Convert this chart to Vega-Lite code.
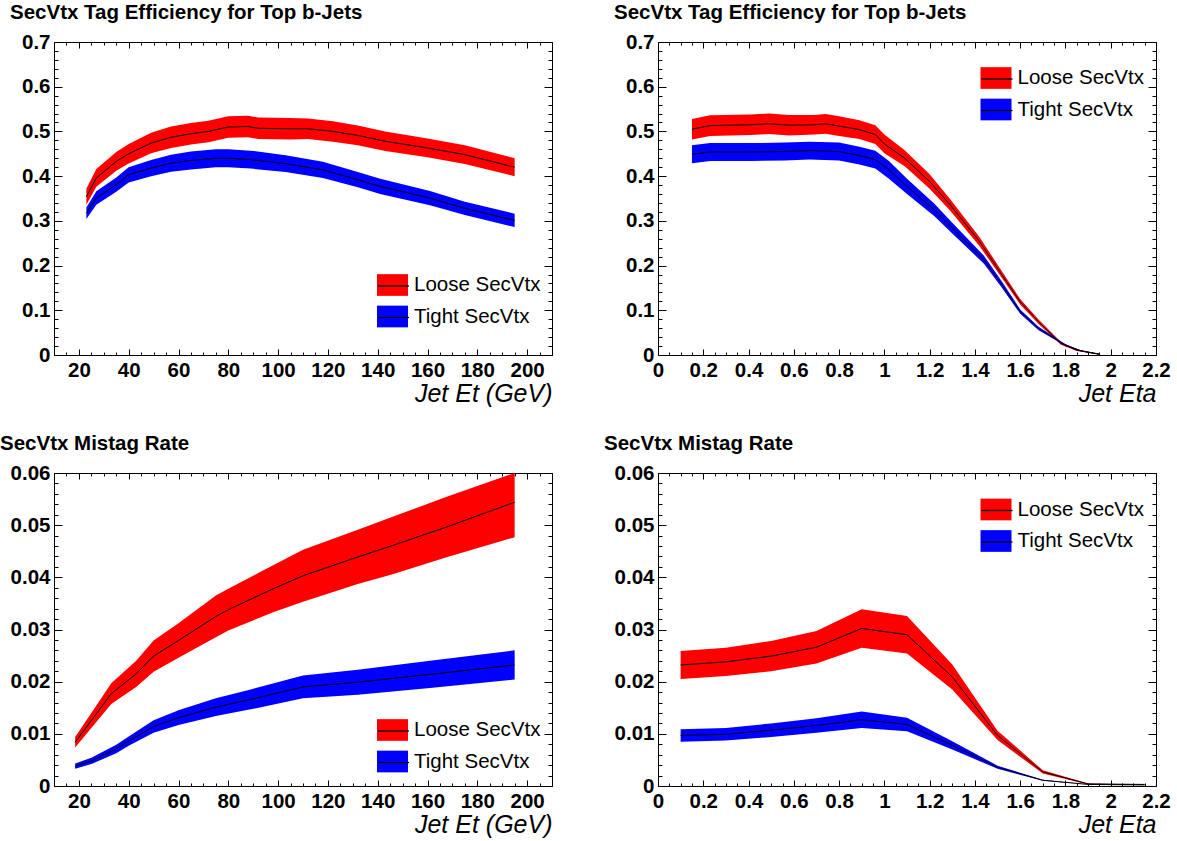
{
  "$schema": "https://vega.github.io/schema/vega-lite/v6.json",
  "background": "white",
  "padding": {"left": 0, "top": 2, "right": 5, "bottom": 5},
  "datasets": {
    "eff_et": [
      {"series": "Loose SecVtx", "x": 23, "y": 0.354, "lo": 0.336, "hi": 0.372},
      {"series": "Loose SecVtx", "x": 27, "y": 0.396, "lo": 0.376, "hi": 0.416},
      {"series": "Loose SecVtx", "x": 35, "y": 0.433, "lo": 0.412, "hi": 0.454},
      {"series": "Loose SecVtx", "x": 40, "y": 0.450, "lo": 0.428, "hi": 0.472},
      {"series": "Loose SecVtx", "x": 49, "y": 0.474, "lo": 0.451, "hi": 0.497},
      {"series": "Loose SecVtx", "x": 57, "y": 0.487, "lo": 0.463, "hi": 0.511},
      {"series": "Loose SecVtx", "x": 65, "y": 0.495, "lo": 0.471, "hi": 0.519},
      {"series": "Loose SecVtx", "x": 72, "y": 0.500, "lo": 0.476, "hi": 0.524},
      {"series": "Loose SecVtx", "x": 80, "y": 0.510, "lo": 0.486, "hi": 0.534},
      {"series": "Loose SecVtx", "x": 88, "y": 0.511, "lo": 0.487, "hi": 0.535},
      {"series": "Loose SecVtx", "x": 92, "y": 0.507, "lo": 0.483, "hi": 0.531},
      {"series": "Loose SecVtx", "x": 105, "y": 0.506, "lo": 0.482, "hi": 0.530},
      {"series": "Loose SecVtx", "x": 112, "y": 0.506, "lo": 0.483, "hi": 0.529},
      {"series": "Loose SecVtx", "x": 122, "y": 0.500, "lo": 0.477, "hi": 0.523},
      {"series": "Loose SecVtx", "x": 132, "y": 0.491, "lo": 0.469, "hi": 0.513},
      {"series": "Loose SecVtx", "x": 143, "y": 0.478, "lo": 0.456, "hi": 0.500},
      {"series": "Loose SecVtx", "x": 160, "y": 0.463, "lo": 0.442, "hi": 0.484},
      {"series": "Loose SecVtx", "x": 175, "y": 0.448, "lo": 0.427, "hi": 0.469},
      {"series": "Loose SecVtx", "x": 195, "y": 0.420, "lo": 0.400, "hi": 0.440},
      {"series": "Tight SecVtx", "x": 23, "y": 0.317, "lo": 0.304, "hi": 0.330},
      {"series": "Tight SecVtx", "x": 27, "y": 0.351, "lo": 0.336, "hi": 0.366},
      {"series": "Tight SecVtx", "x": 35, "y": 0.381, "lo": 0.365, "hi": 0.397},
      {"series": "Tight SecVtx", "x": 40, "y": 0.403, "lo": 0.386, "hi": 0.420},
      {"series": "Tight SecVtx", "x": 49, "y": 0.418, "lo": 0.400, "hi": 0.436},
      {"series": "Tight SecVtx", "x": 57, "y": 0.429, "lo": 0.410, "hi": 0.448},
      {"series": "Tight SecVtx", "x": 65, "y": 0.435, "lo": 0.415, "hi": 0.455},
      {"series": "Tight SecVtx", "x": 75, "y": 0.440, "lo": 0.420, "hi": 0.460},
      {"series": "Tight SecVtx", "x": 80, "y": 0.440, "lo": 0.420, "hi": 0.460},
      {"series": "Tight SecVtx", "x": 89, "y": 0.437, "lo": 0.417, "hi": 0.457},
      {"series": "Tight SecVtx", "x": 103, "y": 0.428, "lo": 0.409, "hi": 0.447},
      {"series": "Tight SecVtx", "x": 118, "y": 0.414, "lo": 0.396, "hi": 0.432},
      {"series": "Tight SecVtx", "x": 132, "y": 0.392, "lo": 0.375, "hi": 0.409},
      {"series": "Tight SecVtx", "x": 141, "y": 0.377, "lo": 0.360, "hi": 0.394},
      {"series": "Tight SecVtx", "x": 161, "y": 0.351, "lo": 0.335, "hi": 0.367},
      {"series": "Tight SecVtx", "x": 175, "y": 0.328, "lo": 0.313, "hi": 0.343},
      {"series": "Tight SecVtx", "x": 195, "y": 0.301, "lo": 0.286, "hi": 0.316}
    ],
    "eff_eta": [
      {"series": "Loose SecVtx", "x": 0.15, "y": 0.505, "lo": 0.482, "hi": 0.528},
      {"series": "Loose SecVtx", "x": 0.23, "y": 0.513, "lo": 0.490, "hi": 0.536},
      {"series": "Loose SecVtx", "x": 0.41, "y": 0.515, "lo": 0.492, "hi": 0.538},
      {"series": "Loose SecVtx", "x": 0.49, "y": 0.517, "lo": 0.494, "hi": 0.540},
      {"series": "Loose SecVtx", "x": 0.58, "y": 0.514, "lo": 0.491, "hi": 0.537},
      {"series": "Loose SecVtx", "x": 0.69, "y": 0.515, "lo": 0.493, "hi": 0.537},
      {"series": "Loose SecVtx", "x": 0.74, "y": 0.517, "lo": 0.495, "hi": 0.539},
      {"series": "Loose SecVtx", "x": 0.80, "y": 0.512, "lo": 0.490, "hi": 0.534},
      {"series": "Loose SecVtx", "x": 0.89, "y": 0.504, "lo": 0.483, "hi": 0.525},
      {"series": "Loose SecVtx", "x": 0.96, "y": 0.493, "lo": 0.472, "hi": 0.514},
      {"series": "Loose SecVtx", "x": 1.00, "y": 0.472, "lo": 0.451, "hi": 0.493},
      {"series": "Loose SecVtx", "x": 1.09, "y": 0.440, "lo": 0.422, "hi": 0.458},
      {"series": "Loose SecVtx", "x": 1.20, "y": 0.388, "lo": 0.372, "hi": 0.404},
      {"series": "Loose SecVtx", "x": 1.29, "y": 0.336, "lo": 0.323, "hi": 0.349},
      {"series": "Loose SecVtx", "x": 1.42, "y": 0.254, "lo": 0.244, "hi": 0.264},
      {"series": "Loose SecVtx", "x": 1.50, "y": 0.194, "lo": 0.186, "hi": 0.202},
      {"series": "Loose SecVtx", "x": 1.60, "y": 0.119, "lo": 0.113, "hi": 0.125},
      {"series": "Loose SecVtx", "x": 1.68, "y": 0.075, "lo": 0.070, "hi": 0.080},
      {"series": "Loose SecVtx", "x": 1.78, "y": 0.026, "lo": 0.023, "hi": 0.029},
      {"series": "Loose SecVtx", "x": 1.85, "y": 0.011, "lo": 0.009, "hi": 0.013},
      {"series": "Loose SecVtx", "x": 1.95, "y": 0.002, "lo": 0.001, "hi": 0.003},
      {"series": "Tight SecVtx", "x": 0.15, "y": 0.449, "lo": 0.429, "hi": 0.469},
      {"series": "Tight SecVtx", "x": 0.23, "y": 0.454, "lo": 0.434, "hi": 0.474},
      {"series": "Tight SecVtx", "x": 0.41, "y": 0.454, "lo": 0.434, "hi": 0.474},
      {"series": "Tight SecVtx", "x": 0.56, "y": 0.455, "lo": 0.435, "hi": 0.475},
      {"series": "Tight SecVtx", "x": 0.67, "y": 0.457, "lo": 0.437, "hi": 0.477},
      {"series": "Tight SecVtx", "x": 0.80, "y": 0.455, "lo": 0.435, "hi": 0.475},
      {"series": "Tight SecVtx", "x": 0.89, "y": 0.446, "lo": 0.426, "hi": 0.466},
      {"series": "Tight SecVtx", "x": 0.96, "y": 0.437, "lo": 0.417, "hi": 0.457},
      {"series": "Tight SecVtx", "x": 1.02, "y": 0.414, "lo": 0.394, "hi": 0.434},
      {"series": "Tight SecVtx", "x": 1.10, "y": 0.377, "lo": 0.360, "hi": 0.394},
      {"series": "Tight SecVtx", "x": 1.22, "y": 0.325, "lo": 0.311, "hi": 0.339},
      {"series": "Tight SecVtx", "x": 1.30, "y": 0.284, "lo": 0.272, "hi": 0.296},
      {"series": "Tight SecVtx", "x": 1.44, "y": 0.213, "lo": 0.204, "hi": 0.222},
      {"series": "Tight SecVtx", "x": 1.52, "y": 0.157, "lo": 0.150, "hi": 0.164},
      {"series": "Tight SecVtx", "x": 1.60, "y": 0.097, "lo": 0.092, "hi": 0.102},
      {"series": "Tight SecVtx", "x": 1.68, "y": 0.060, "lo": 0.056, "hi": 0.064},
      {"series": "Tight SecVtx", "x": 1.80, "y": 0.022, "lo": 0.020, "hi": 0.024},
      {"series": "Tight SecVtx", "x": 1.87, "y": 0.009, "lo": 0.008, "hi": 0.010},
      {"series": "Tight SecVtx", "x": 1.95, "y": 0.0015, "lo": 0.001, "hi": 0.002}
    ],
    "mis_et": [
      {"series": "Loose SecVtx", "x": 18.5, "y": 0.0084, "lo": 0.0074, "hi": 0.0094},
      {"series": "Loose SecVtx", "x": 26, "y": 0.0132, "lo": 0.0117, "hi": 0.0147},
      {"series": "Loose SecVtx", "x": 33, "y": 0.0177, "lo": 0.0157, "hi": 0.0197},
      {"series": "Loose SecVtx", "x": 43, "y": 0.0215, "lo": 0.0190, "hi": 0.0240},
      {"series": "Loose SecVtx", "x": 50, "y": 0.0249, "lo": 0.0219, "hi": 0.0279},
      {"series": "Loose SecVtx", "x": 60, "y": 0.0279, "lo": 0.0246, "hi": 0.0312},
      {"series": "Loose SecVtx", "x": 75, "y": 0.0325, "lo": 0.0285, "hi": 0.0365},
      {"series": "Loose SecVtx", "x": 80, "y": 0.0338, "lo": 0.0298, "hi": 0.0378},
      {"series": "Loose SecVtx", "x": 98, "y": 0.0378, "lo": 0.0333, "hi": 0.0423},
      {"series": "Loose SecVtx", "x": 110, "y": 0.0403, "lo": 0.0353, "hi": 0.0453},
      {"series": "Loose SecVtx", "x": 132, "y": 0.0439, "lo": 0.0387, "hi": 0.0491},
      {"series": "Loose SecVtx", "x": 146, "y": 0.0461, "lo": 0.0406, "hi": 0.0516},
      {"series": "Loose SecVtx", "x": 168, "y": 0.0497, "lo": 0.0439, "hi": 0.0555},
      {"series": "Loose SecVtx", "x": 195, "y": 0.0544, "lo": 0.0477, "hi": 0.0600},
      {"series": "Tight SecVtx", "x": 18.5, "y": 0.0038, "lo": 0.0033, "hi": 0.0043},
      {"series": "Tight SecVtx", "x": 25, "y": 0.0048, "lo": 0.0042, "hi": 0.0054},
      {"series": "Tight SecVtx", "x": 35, "y": 0.0071, "lo": 0.0063, "hi": 0.0079},
      {"series": "Tight SecVtx", "x": 40, "y": 0.0086, "lo": 0.0077, "hi": 0.0095},
      {"series": "Tight SecVtx", "x": 50, "y": 0.0114, "lo": 0.0102, "hi": 0.0126},
      {"series": "Tight SecVtx", "x": 60, "y": 0.0131, "lo": 0.0117, "hi": 0.0145},
      {"series": "Tight SecVtx", "x": 75, "y": 0.0151, "lo": 0.0134, "hi": 0.0168},
      {"series": "Tight SecVtx", "x": 89, "y": 0.0166, "lo": 0.0147, "hi": 0.0185},
      {"series": "Tight SecVtx", "x": 110, "y": 0.0190, "lo": 0.0168, "hi": 0.0212},
      {"series": "Tight SecVtx", "x": 132, "y": 0.0199, "lo": 0.0175, "hi": 0.0223},
      {"series": "Tight SecVtx", "x": 161, "y": 0.0214, "lo": 0.0188, "hi": 0.0240},
      {"series": "Tight SecVtx", "x": 195, "y": 0.0232, "lo": 0.0204, "hi": 0.0260}
    ],
    "mis_eta": [
      {"series": "Loose SecVtx", "x": 0.1, "y": 0.0232, "lo": 0.0205, "hi": 0.0259},
      {"series": "Loose SecVtx", "x": 0.3, "y": 0.0238, "lo": 0.0211, "hi": 0.0265},
      {"series": "Loose SecVtx", "x": 0.5, "y": 0.0249, "lo": 0.0220, "hi": 0.0278},
      {"series": "Loose SecVtx", "x": 0.7, "y": 0.0266, "lo": 0.0235, "hi": 0.0297},
      {"series": "Loose SecVtx", "x": 0.9, "y": 0.0302, "lo": 0.0265, "hi": 0.0339},
      {"series": "Loose SecVtx", "x": 1.1, "y": 0.0290, "lo": 0.0254, "hi": 0.0326},
      {"series": "Loose SecVtx", "x": 1.3, "y": 0.0209, "lo": 0.0185, "hi": 0.0233},
      {"series": "Loose SecVtx", "x": 1.5, "y": 0.0097, "lo": 0.0088, "hi": 0.0106},
      {"series": "Loose SecVtx", "x": 1.7, "y": 0.0027, "lo": 0.0024, "hi": 0.0030},
      {"series": "Loose SecVtx", "x": 1.9, "y": 0.0004, "lo": 0.0003, "hi": 0.0005},
      {"series": "Loose SecVtx", "x": 2.15, "y": 0.0003, "lo": 0.0003, "hi": 0.0003},
      {"series": "Tight SecVtx", "x": 0.1, "y": 0.0097, "lo": 0.0085, "hi": 0.0109},
      {"series": "Tight SecVtx", "x": 0.3, "y": 0.0099, "lo": 0.0087, "hi": 0.0111},
      {"series": "Tight SecVtx", "x": 0.5, "y": 0.0107, "lo": 0.0094, "hi": 0.0120},
      {"series": "Tight SecVtx", "x": 0.7, "y": 0.0116, "lo": 0.0102, "hi": 0.0130},
      {"series": "Tight SecVtx", "x": 0.9, "y": 0.0127, "lo": 0.0111, "hi": 0.0143},
      {"series": "Tight SecVtx", "x": 1.1, "y": 0.0118, "lo": 0.0105, "hi": 0.0131},
      {"series": "Tight SecVtx", "x": 1.3, "y": 0.0078, "lo": 0.0070, "hi": 0.0086},
      {"series": "Tight SecVtx", "x": 1.5, "y": 0.0036, "lo": 0.0033, "hi": 0.0039},
      {"series": "Tight SecVtx", "x": 1.7, "y": 0.0011, "lo": 0.0010, "hi": 0.0012},
      {"series": "Tight SecVtx", "x": 1.9, "y": 0.0003, "lo": 0.0003, "hi": 0.0003},
      {"series": "Tight SecVtx", "x": 2.15, "y": 0.0002, "lo": 0.0002, "hi": 0.0002}
    ]
  },
  "columns": 2,
  "spacing": {"row": 118, "column": 106},
  "bounds": "flush",
  "resolve": {"scale": {"fill": "independent", "stroke": "independent"}},
  "concat": [
    {
      "width": 498, "height": 313,
      "title": {"text": "SecVtx Tag Efficiency for Top b-Jets", "dx": -44},
      "data": {"name": "eff_et"},
      "resolve": {"axis": {"x": "independent", "y": "independent"}},
      "layer": [
        {
          "mark": {"type": "area", "opacity": 1},
          "encoding": {
            "x": {"field": "x", "type": "quantitative", "scale": {"domain": [10, 210], "nice": false, "zero": false},
              "axis": {"orient": "bottom", "values": [10,15,20,25,30,35,40,45,50,55,60,65,70,75,80,85,90,95,100,105,110,115,120,125,130,135,140,145,150,155,160,165,170,175,180,185,190,195,200,205,210],
                "tickSize": {"condition": {"test": "datum.value % 20 == 0", "value": -6}, "value": -3},
                "labelExpr": "datum.value % 20 == 0 ? format(datum.value, '~g') : ''", "title": "Jet Et (GeV)"}},
            "y": {"field": "lo", "type": "quantitative", "scale": {"domain": [0, 0.7], "nice": false, "zero": false},
              "axis": {"orient": "left", "values": [0,0.02,0.04,0.06,0.08,0.1,0.12,0.14,0.16,0.18,0.2,0.22,0.24,0.26,0.28,0.3,0.32,0.34,0.36,0.38,0.4,0.42,0.44,0.46,0.48,0.5,0.52,0.54,0.56,0.58,0.6,0.62,0.64,0.66,0.68,0.7],
                "tickSize": {"condition": {"test": "round(datum.value*50) % 5 == 0", "value": -8}, "value": -4},
                "labelExpr": "round(datum.value*50) % 5 == 0 ? format(datum.value, '~g') : ''", "title": null}},
            "y2": {"field": "hi"},
            "fill": {"field": "series", "type": "nominal", "scale": {"range": ["#ff0000", "#0000ff"]},
              "legend": {"title": null, "legendX": 323, "legendY": 227.5, "symbolStrokeWidth": 0}}
          }
        },
        {
          "transform": [{"calculate": "datum.series", "as": "s2"}],
          "mark": {"type": "line", "strokeWidth": 1},
          "encoding": {
            "x": {"field": "x", "type": "quantitative",
              "axis": {"orient": "top", "values": [10,15,20,25,30,35,40,45,50,55,60,65,70,75,80,85,90,95,100,105,110,115,120,125,130,135,140,145,150,155,160,165,170,175,180,185,190,195,200,205,210],
                "tickSize": {"condition": {"test": "datum.value % 20 == 0", "value": -6}, "value": -3},
                "labels": false, "title": null}},
            "y": {"field": "y", "type": "quantitative",
              "axis": {"orient": "right", "values": [0,0.02,0.04,0.06,0.08,0.1,0.12,0.14,0.16,0.18,0.2,0.22,0.24,0.26,0.28,0.3,0.32,0.34,0.36,0.38,0.4,0.42,0.44,0.46,0.48,0.5,0.52,0.54,0.56,0.58,0.6,0.62,0.64,0.66,0.68,0.7],
                "tickSize": {"condition": {"test": "round(datum.value*50) % 5 == 0", "value": -8}, "value": -4},
                "labels": false, "title": null}},
            "stroke": {"field": "s2", "type": "nominal", "scale": {"range": ["#000000", "#000000"]},
              "legend": {"title": null, "legendX": 323, "legendY": 227.5, "symbolType": "stroke", "symbolStrokeWidth": 1.3, "labelOpacity": 0}}
          }
        }
      ]
    },
    {
      "width": 498, "height": 313,
      "title": {"text": "SecVtx Tag Efficiency for Top b-Jets", "dx": -44},
      "data": {"name": "eff_eta"},
      "resolve": {"axis": {"x": "independent", "y": "independent"}},
      "layer": [
        {
          "mark": {"type": "area", "opacity": 1},
          "encoding": {
            "x": {"field": "x", "type": "quantitative", "scale": {"domain": [0, 2.2], "nice": false, "zero": false},
              "axis": {"orient": "bottom", "values": [0,0.05,0.1,0.15,0.2,0.25,0.3,0.35,0.4,0.45,0.5,0.55,0.6,0.65,0.7,0.75,0.8,0.85,0.9,0.95,1,1.05,1.1,1.15,1.2,1.25,1.3,1.35,1.4,1.45,1.5,1.55,1.6,1.65,1.7,1.75,1.8,1.85,1.9,1.95,2,2.05,2.1,2.15,2.2],
                "tickSize": {"condition": {"test": "round(datum.value*20) % 4 == 0", "value": -6}, "value": -3},
                "labelExpr": "round(datum.value*20) % 4 == 0 ? format(datum.value, '~g') : ''", "title": "Jet Eta"}},
            "y": {"field": "lo", "type": "quantitative", "scale": {"domain": [0, 0.7], "nice": false, "zero": false},
              "axis": {"orient": "left", "values": [0,0.02,0.04,0.06,0.08,0.1,0.12,0.14,0.16,0.18,0.2,0.22,0.24,0.26,0.28,0.3,0.32,0.34,0.36,0.38,0.4,0.42,0.44,0.46,0.48,0.5,0.52,0.54,0.56,0.58,0.6,0.62,0.64,0.66,0.68,0.7],
                "tickSize": {"condition": {"test": "round(datum.value*50) % 5 == 0", "value": -8}, "value": -4},
                "labelExpr": "round(datum.value*50) % 5 == 0 ? format(datum.value, '~g') : ''", "title": null}},
            "y2": {"field": "hi"},
            "fill": {"field": "series", "type": "nominal", "scale": {"range": ["#ff0000", "#0000ff"]},
              "legend": {"title": null, "legendX": 322.5, "legendY": 20.5, "symbolStrokeWidth": 0}}
          }
        },
        {
          "transform": [{"calculate": "datum.series", "as": "s2"}],
          "mark": {"type": "line", "strokeWidth": 1},
          "encoding": {
            "x": {"field": "x", "type": "quantitative",
              "axis": {"orient": "top", "values": [0,0.05,0.1,0.15,0.2,0.25,0.3,0.35,0.4,0.45,0.5,0.55,0.6,0.65,0.7,0.75,0.8,0.85,0.9,0.95,1,1.05,1.1,1.15,1.2,1.25,1.3,1.35,1.4,1.45,1.5,1.55,1.6,1.65,1.7,1.75,1.8,1.85,1.9,1.95,2,2.05,2.1,2.15,2.2],
                "tickSize": {"condition": {"test": "round(datum.value*20) % 4 == 0", "value": -6}, "value": -3},
                "labels": false, "title": null}},
            "y": {"field": "y", "type": "quantitative",
              "axis": {"orient": "right", "values": [0,0.02,0.04,0.06,0.08,0.1,0.12,0.14,0.16,0.18,0.2,0.22,0.24,0.26,0.28,0.3,0.32,0.34,0.36,0.38,0.4,0.42,0.44,0.46,0.48,0.5,0.52,0.54,0.56,0.58,0.6,0.62,0.64,0.66,0.68,0.7],
                "tickSize": {"condition": {"test": "round(datum.value*50) % 5 == 0", "value": -8}, "value": -4},
                "labels": false, "title": null}},
            "stroke": {"field": "s2", "type": "nominal", "scale": {"range": ["#000000", "#000000"]},
              "legend": {"title": null, "legendX": 322.5, "legendY": 20.5, "symbolType": "stroke", "symbolStrokeWidth": 1.3, "labelOpacity": 0}}
          }
        }
      ]
    },
    {
      "width": 498, "height": 313,
      "title": {"text": "SecVtx Mistag Rate", "dx": -54},
      "data": {"name": "mis_et"},
      "resolve": {"axis": {"x": "independent", "y": "independent"}},
      "layer": [
        {
          "mark": {"type": "area", "opacity": 1},
          "encoding": {
            "x": {"field": "x", "type": "quantitative", "scale": {"domain": [10, 210], "nice": false, "zero": false},
              "axis": {"orient": "bottom", "values": [10,15,20,25,30,35,40,45,50,55,60,65,70,75,80,85,90,95,100,105,110,115,120,125,130,135,140,145,150,155,160,165,170,175,180,185,190,195,200,205,210],
                "tickSize": {"condition": {"test": "datum.value % 20 == 0", "value": -6}, "value": -3},
                "labelExpr": "datum.value % 20 == 0 ? format(datum.value, '~g') : ''", "title": "Jet Et (GeV)"}},
            "y": {"field": "lo", "type": "quantitative", "scale": {"domain": [0, 0.06], "nice": false, "zero": false},
              "axis": {"orient": "left", "values": [0,0.002,0.004,0.006,0.008,0.01,0.012,0.014,0.016,0.018,0.02,0.022,0.024,0.026,0.028,0.03,0.032,0.034,0.036,0.038,0.04,0.042,0.044,0.046,0.048,0.05,0.052,0.054,0.056,0.058,0.06],
                "tickSize": {"condition": {"test": "round(datum.value*500) % 5 == 0", "value": -8}, "value": -4},
                "labelExpr": "round(datum.value*500) % 5 == 0 ? format(datum.value, '~g') : ''", "title": null}},
            "y2": {"field": "hi"},
            "fill": {"field": "series", "type": "nominal", "scale": {"range": ["#ff0000", "#0000ff"]},
              "legend": {"title": null, "legendX": 323, "legendY": 241.5, "symbolStrokeWidth": 0}}
          }
        },
        {
          "transform": [{"calculate": "datum.series", "as": "s2"}],
          "mark": {"type": "line", "strokeWidth": 1},
          "encoding": {
            "x": {"field": "x", "type": "quantitative",
              "axis": {"orient": "top", "values": [10,15,20,25,30,35,40,45,50,55,60,65,70,75,80,85,90,95,100,105,110,115,120,125,130,135,140,145,150,155,160,165,170,175,180,185,190,195,200,205,210],
                "tickSize": {"condition": {"test": "datum.value % 20 == 0", "value": -6}, "value": -3},
                "labels": false, "title": null}},
            "y": {"field": "y", "type": "quantitative",
              "axis": {"orient": "right", "values": [0,0.002,0.004,0.006,0.008,0.01,0.012,0.014,0.016,0.018,0.02,0.022,0.024,0.026,0.028,0.03,0.032,0.034,0.036,0.038,0.04,0.042,0.044,0.046,0.048,0.05,0.052,0.054,0.056,0.058,0.06],
                "tickSize": {"condition": {"test": "round(datum.value*500) % 5 == 0", "value": -8}, "value": -4},
                "labels": false, "title": null}},
            "stroke": {"field": "s2", "type": "nominal", "scale": {"range": ["#000000", "#000000"]},
              "legend": {"title": null, "legendX": 323, "legendY": 241.5, "symbolType": "stroke", "symbolStrokeWidth": 1.3, "labelOpacity": 0}}
          }
        }
      ]
    },
    {
      "width": 498, "height": 313,
      "title": {"text": "SecVtx Mistag Rate", "dx": -54},
      "data": {"name": "mis_eta"},
      "resolve": {"axis": {"x": "independent", "y": "independent"}},
      "layer": [
        {
          "mark": {"type": "area", "opacity": 1},
          "encoding": {
            "x": {"field": "x", "type": "quantitative", "scale": {"domain": [0, 2.2], "nice": false, "zero": false},
              "axis": {"orient": "bottom", "values": [0,0.05,0.1,0.15,0.2,0.25,0.3,0.35,0.4,0.45,0.5,0.55,0.6,0.65,0.7,0.75,0.8,0.85,0.9,0.95,1,1.05,1.1,1.15,1.2,1.25,1.3,1.35,1.4,1.45,1.5,1.55,1.6,1.65,1.7,1.75,1.8,1.85,1.9,1.95,2,2.05,2.1,2.15,2.2],
                "tickSize": {"condition": {"test": "round(datum.value*20) % 4 == 0", "value": -6}, "value": -3},
                "labelExpr": "round(datum.value*20) % 4 == 0 ? format(datum.value, '~g') : ''", "title": "Jet Eta"}},
            "y": {"field": "lo", "type": "quantitative", "scale": {"domain": [0, 0.06], "nice": false, "zero": false},
              "axis": {"orient": "left", "values": [0,0.002,0.004,0.006,0.008,0.01,0.012,0.014,0.016,0.018,0.02,0.022,0.024,0.026,0.028,0.03,0.032,0.034,0.036,0.038,0.04,0.042,0.044,0.046,0.048,0.05,0.052,0.054,0.056,0.058,0.06],
                "tickSize": {"condition": {"test": "round(datum.value*500) % 5 == 0", "value": -8}, "value": -4},
                "labelExpr": "round(datum.value*500) % 5 == 0 ? format(datum.value, '~g') : ''", "title": null}},
            "y2": {"field": "hi"},
            "fill": {"field": "series", "type": "nominal", "scale": {"range": ["#ff0000", "#0000ff"]},
              "legend": {"title": null, "legendX": 322.5, "legendY": 21, "symbolStrokeWidth": 0}}
          }
        },
        {
          "transform": [{"calculate": "datum.series", "as": "s2"}],
          "mark": {"type": "line", "strokeWidth": 1},
          "encoding": {
            "x": {"field": "x", "type": "quantitative",
              "axis": {"orient": "top", "values": [0,0.05,0.1,0.15,0.2,0.25,0.3,0.35,0.4,0.45,0.5,0.55,0.6,0.65,0.7,0.75,0.8,0.85,0.9,0.95,1,1.05,1.1,1.15,1.2,1.25,1.3,1.35,1.4,1.45,1.5,1.55,1.6,1.65,1.7,1.75,1.8,1.85,1.9,1.95,2,2.05,2.1,2.15,2.2],
                "tickSize": {"condition": {"test": "round(datum.value*20) % 4 == 0", "value": -6}, "value": -3},
                "labels": false, "title": null}},
            "y": {"field": "y", "type": "quantitative",
              "axis": {"orient": "right", "values": [0,0.002,0.004,0.006,0.008,0.01,0.012,0.014,0.016,0.018,0.02,0.022,0.024,0.026,0.028,0.03,0.032,0.034,0.036,0.038,0.04,0.042,0.044,0.046,0.048,0.05,0.052,0.054,0.056,0.058,0.06],
                "tickSize": {"condition": {"test": "round(datum.value*500) % 5 == 0", "value": -8}, "value": -4},
                "labels": false, "title": null}},
            "stroke": {"field": "s2", "type": "nominal", "scale": {"range": ["#000000", "#000000"]},
              "legend": {"title": null, "legendX": 322.5, "legendY": 21, "symbolType": "stroke", "symbolStrokeWidth": 1.3, "labelOpacity": 0}}
          }
        }
      ]
    }
  ],
  "config": {
    "font": "Liberation Sans",
    "view": {"stroke": null},
    "title": {"anchor": "start", "frame": "group", "offset": 9, "baseline": "alphabetic", "fontSize": 20.5, "fontWeight": "bold", "font": "Liberation Sans", "color": "#000000"},
    "axis": {"grid": false, "domainColor": "#000000", "domainWidth": 1, "tickColor": "#000000", "tickWidth": 1,
      "labelFont": "Liberation Sans", "labelFontSize": 20.5, "labelFontWeight": "bold", "labelColor": "#000000",
      "labelOverlap": false, "labelFlush": false, "labelBound": false,
      "titleFont": "Liberation Sans", "titleFontSize": 25, "titleFontStyle": "italic", "titleFontWeight": "normal", "titleColor": "#000000"},
    "axisBottom": {"labelPadding": 11, "titleX": 498, "titleY": 46, "titleAlign": "right", "titleAnchor": "end", "titleBaseline": "alphabetic"},
    "axisLeft": {"labelPadding": 12},
    "legend": {"orient": "none", "symbolType": "M-1,-0.7H1V0.7H-1Z", "symbolSize": 961, "labelFont": "Liberation Sans", "labelFontSize": 20.5, "labelColor": "#000000", "labelOffset": 6, "rowPadding": 4.5, "padding": 0, "labelLimit": 300}
  }
}
